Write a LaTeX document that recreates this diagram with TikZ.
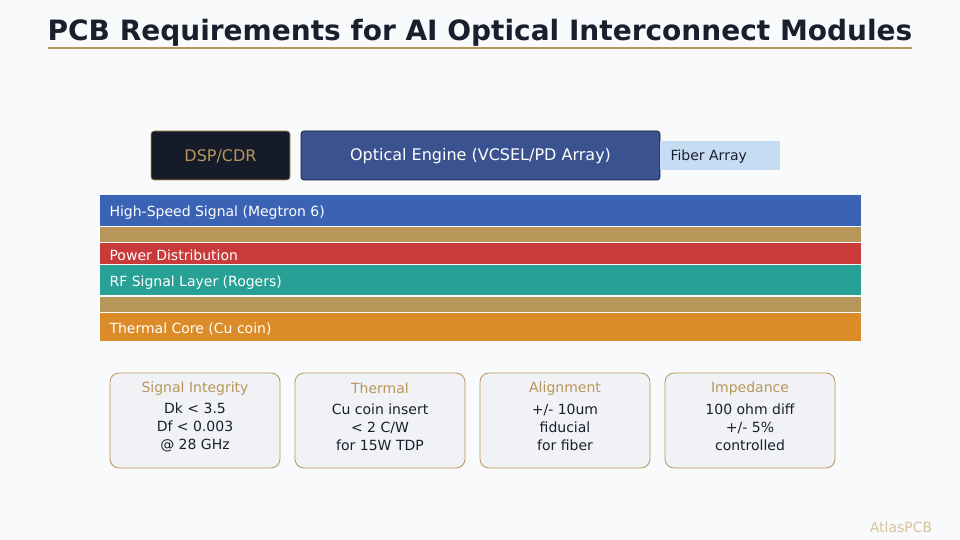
\documentclass[tikz,border=0pt]{standalone}
\usepackage{fontspec}
\setmainfont{DejaVu Sans}
\definecolor{bg}{HTML}{F8FAFC}
\definecolor{ink}{HTML}{1A1F2E}
\definecolor{gold}{HTML}{B8965A}
\definecolor{dark}{HTML}{161B2A}
\definecolor{oe}{HTML}{3B5290}
\definecolor{fiber}{HTML}{C6DCF3}
\definecolor{hs}{HTML}{3A62B5}
\definecolor{pwr}{HTML}{C93A3A}
\definecolor{rf}{HTML}{27A195}
\definecolor{therm}{HTML}{DB8B28}
\definecolor{card}{HTML}{F1F2F6}
\definecolor{brand}{HTML}{D9C29A}
\tikzset{
  px/.style={x=1pt,y=-1pt},
  layertext/.style={anchor=west,text=white,font=\fontsize{14}{16}\selectfont},
  chip/.style={rectangle,rounded corners=3pt,inner sep=0pt},
  cardbox/.style={draw=gold,line width=0.8pt,fill=card,rounded corners=9pt},
  cardtitle/.style={text=gold,font=\fontsize{14}{16}\selectfont},
  cardbody/.style={text=ink,align=center,font=\fontsize{14}{18}\selectfont},
}
\begin{document}
\begin{tikzpicture}[px]
\fill[bg] (0,0) rectangle (960,540);
\useasboundingbox (0,0) rectangle (960,540);
% title
\node[text=ink,font=\fontsize{28}{32}\bfseries\selectfont] (title) at (480,33) {PCB Requirements for AI Optical Interconnect Modules};
\draw[gold,line width=2pt] (48,48) -- (912,48);
% top components
\node[chip,fill=dark,draw=gold,line width=0.7pt,minimum width=139pt,minimum height=49pt] (dsp) at (220.5,155.5) {};
\node[text=gold,font=\fontsize{16}{18}\selectfont] (dspt) at (220.5,156.5) {DSP/CDR};
\node[chip,fill=oe,draw=dark,line width=0.7pt,minimum width=359pt,minimum height=49pt] (oeng) at (480.5,155.5) {};
\node[text=white,font=\fontsize{16}{18}\selectfont] (oet) at (480.5,156.5) {Optical Engine (VCSEL/PD Array)};
\fill[fiber] (660,141) rectangle (780,170);
\node[anchor=west,text=ink,font=\fontsize{14}{16}\selectfont] (fib) at (667,156.5) {Fiber Array};
% layers
\fill[hs] (100,195) rectangle (861,226);
\node[layertext] (l1) at (106,212.5) {High-Speed Signal (Megtron 6)};
\fill[gold] (100,227) rectangle (861,242);
\fill[pwr] (100,243) rectangle (861,264);
\node[layertext] (l2) at (106,255) {Power Distribution};
\fill[rf] (100,265) rectangle (861,295);
\node[layertext] (l3) at (106,282.5) {RF Signal Layer (Rogers)};
\fill[gold] (100,297) rectangle (861,312);
\fill[therm] (100,313) rectangle (861,341);
\node[layertext] (l4) at (106,329) {Thermal Core (Cu coin)};
% cards
\foreach \x/\t/\a/\b/\c [count=\i] in {110/{Signal Integrity}/{Dk < 3.5}/{Df < 0.003}/{@ 28 GHz},
  295/{Thermal}/{Cu coin insert}/{< 2 C/W}/{for 15W TDP},
  480/{Alignment}/{+/- 10um}/{fiducial}/{for fiber},
  665/{Impedance}/{100 ohm diff}/{+/- 5\%}/{controlled}}{
  \draw[cardbox] (\x,373) rectangle ++(170,95);
  \node[cardtitle] (ct\i) at (\x+85,388.5) {\t};
  \node[cardbody] (cb\i) at (\x+85,427) {\a\\\b\\\c};
}
\node[text=brand,font=\fontsize{14}{16}\selectfont] (brand) at (901,527) {AtlasPCB};
\end{tikzpicture}
\end{document}
